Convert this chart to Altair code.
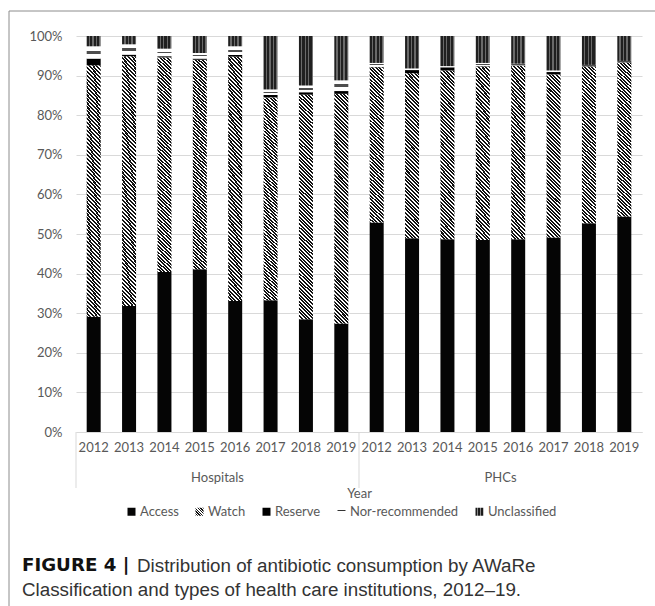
import json

import altair as alt
import pandas as pd

# ---- data: share of antibiotic consumption (%) by AWaRe category ----
years = ["2012", "2013", "2014", "2015", "2016", "2017", "2018", "2019"]
groups = ["Hospitals", "PHCs"]
categories = ["Access", "Watch", "Reserve", "Nor-recommended", "Unclassified"]

hospitals_access = [29.1, 31.8, 40.4, 41.1, 33.1, 33.3, 28.5, 27.4]
hospitals_watch = [63.5, 63.1, 54.2, 52.9, 61.7, 51.2, 56.7, 58.0]
hospitals_reserve = [1.7, 0.4, 0.3, 0.3, 0.4, 0.6, 0.6, 0.7]
hospitals_nor = [3.1, 2.6, 1.9, 1.4, 2.2, 1.4, 1.7, 2.7]
hospitals_unclassified = [2.6, 2.1, 3.2, 4.3, 2.6, 13.5, 12.5, 11.2]

phcs_access = [52.9, 48.9, 48.7, 48.5, 48.7, 49.1, 52.7, 54.4]
phcs_watch = [39.2, 41.7, 42.6, 43.8, 43.8, 41.2, 39.6, 38.9]
phcs_reserve = [0.1, 0.8, 0.8, 0.1, 0.1, 0.6, 0.1, 0.1]
phcs_nor = [1.0, 0.4, 0.3, 0.8, 0.4, 0.4, 0.3, 0.3]
phcs_unclassified = [6.8, 8.2, 7.6, 6.8, 7.0, 8.7, 7.3, 6.3]

y_ticks = [0.0, 0.1, 0.2, 0.3, 0.4, 0.5, 0.6, 0.7, 0.8, 0.9, 1.0]

caption_head = "FIGURE 4 |"
caption_line1 = "Distribution of antibiotic consumption by AWaRe"
caption_line2 = "Classification and types of health care institutions, 2012\u201319."

series = {
    "Hospitals": [hospitals_access, hospitals_watch, hospitals_reserve,
                  hospitals_nor, hospitals_unclassified],
    "PHCs": [phcs_access, phcs_watch, phcs_reserve, phcs_nor, phcs_unclassified],
}

rows = []
for g in groups:
    for i, yr in enumerate(years):
        for k, cat in enumerate(categories):
            rows.append({"group": g, "year": yr, "slot": f"{g} {yr}",
                         "cat": cat, "order": k, "share": series[g][k][i] / 100})
df = pd.DataFrame(rows)
slots = [f"{g} {yr}" for g in groups for yr in years]

# ---- layout ----
PLOT_W, PLOT_H = 566, 396
BAR_W = 14
TEXT = "#595959"
GRID = "#d9d9d9"
FONT = "Lato"


# ---- texture fills built from SVG linear gradients ----
def diag_hatch(seg_h, box_w=BAR_W, period=3.6, ink="#111111", paper="#ffffff", frac=0.56):
    """Back-slash hatching at ~45 deg for a box of box_w x seg_h pixels."""
    t = seg_h / box_w
    k = 1 + t * t
    span = (1 + t) / k
    step = period / (box_w * k)
    stops, pos = [], 0.0
    while pos < span:
        a, b, c = pos, pos + step * frac, pos + step
        stops += [(a, ink), (b, ink), (b, paper), (c, paper)]
        pos = c
    return {"gradient": "linear", "x1": 1, "y1": 0, "x2": 0.0001, "y2": t,
            "stops": [{"offset": round(min(o, 1.0), 6), "color": col}
                      for o, col in stops]}


def vert_stripes(box_w=BAR_W, period=3.5, ink="#202020", light="#6a6a6a", frac=0.62):
    stops, pos = [], 0.0
    step = period / box_w
    while pos < 1:
        a, b, c = pos, pos + step * frac, pos + step
        stops += [(a, ink), (b, ink), (b, light), (c, light)]
        pos = c
    return {"gradient": "linear", "x1": 0, "y1": 0, "x2": 1, "y2": 0,
            "stops": [{"offset": round(min(o, 1.0), 6), "color": col}
                      for o, col in stops]}


def dash_band(lo=0.38, hi=0.62, ink="#4d4d4d"):
    return {"gradient": "linear", "x1": 0, "y1": 0, "x2": 0.0001, "y2": 1,
            "stops": [{"offset": 0, "color": "#ffffff"},
                      {"offset": lo, "color": "#ffffff"},
                      {"offset": lo, "color": ink},
                      {"offset": hi, "color": ink},
                      {"offset": hi, "color": "#ffffff"},
                      {"offset": 1, "color": "#ffffff"}]}


watch_px = {g: sum(series[g][1]) / len(years) / 100 * PLOT_H for g in groups}

ACCESS_FILL = "#050505"
RESERVE_FILL = "#000000"
NOR_FILL = dash_band()
UNCLASS_FILL = vert_stripes()

# ---- shared encodings ----
x_scale = alt.Scale(domain=slots, paddingInner=0, paddingOuter=0)
x_axis = alt.Axis(title="Year", labelExpr="slice(datum.label, -4)", labelAngle=0,
                  ticks=False, domainColor=GRID, grid=False,
                  labelFont=FONT, labelFontSize=13, labelColor=TEXT, labelPadding=9,
                  titleFont=FONT, titleFontSize=13, titleFontWeight="normal",
                  titleColor=TEXT, titlePadding=33)
y_axis = alt.Axis(values=y_ticks, format=".0%", title=None, domain=False, ticks=False,
                  labelPadding=14, gridColor=GRID, labelFont=FONT, labelFontSize=13,
                  labelColor=TEXT)


def x_enc(band=0.5):
    return alt.X("slot:N", sort=slots, scale=x_scale, axis=x_axis, bandPosition=band)


y_enc = alt.Y("y0:Q", scale=alt.Scale(domain=[0, 1], nice=False), axis=y_axis)

base = alt.Chart(df).transform_stack(
    stack="share", groupby=["slot"],
    sort=[alt.SortField("order", order="ascending")], as_=["y0", "y1"])


def segment(cat, fill, group=None):
    c = base.transform_filter(alt.datum.cat == cat)
    if group is not None:
        c = c.transform_filter(alt.datum.group == group)
    return c.mark_bar(size=BAR_W, fill=fill, strokeWidth=0).encode(
        x=x_enc(), y=y_enc, y2="y1:Q")


bars = [
    segment("Access", ACCESS_FILL),
    segment("Watch", diag_hatch(watch_px["Hospitals"]), "Hospitals"),
    segment("Watch", diag_hatch(watch_px["PHCs"]), "PHCs"),
    segment("Reserve", RESERVE_FILL),
    segment("Nor-recommended", NOR_FILL),
    segment("Unclassified", UNCLASS_FILL),
]

# ---- legend (drawn from an empty layer so only the key shows) ----
legend_fills = [
    ACCESS_FILL,
    diag_hatch(8, box_w=8, period=2.6),
    RESERVE_FILL,
    dash_band(0.22, 0.45, "#333333"),
    vert_stripes(box_w=8, period=2.7, ink="#1c1c1c", light="#8a8a8a", frac=0.6),
]
legend_range = [{"expr": json.dumps(f)} if isinstance(f, dict) else f for f in legend_fills]

legend_layer = alt.Chart(df).transform_filter("false").mark_bar().encode(
    color=alt.Color("cat:N", scale=alt.Scale(domain=categories, range=legend_range),
                    legend=alt.Legend(title=None, orient="none", legendX=49, legendY=469,
                                      direction="horizontal", symbolType="square",
                                      symbolSize=64, symbolStrokeWidth=0,
                                      labelFont=FONT, labelFontSize=13, labelColor=TEXT,
                                      labelOffset=2, columnPadding=14, padding=0)))

# ---- two-level category axis: group names and separators ----
mid_year = years[len(years) // 2 - 1]
group_labels = alt.Chart(pd.DataFrame({
    "slot": [f"{g} {mid_year}" for g in groups], "label": groups})).mark_text(
    font=FONT, fontSize=13, color=TEXT, baseline="middle").encode(
    x=x_enc(1), y=alt.value(PLOT_H + 46), text="label:N")

separators = alt.Chart(pd.DataFrame({
    "slot": [f"{g} {years[0]}" for g in groups]})).mark_rule(
    color=GRID, strokeWidth=1).encode(
    x=x_enc(0), y=alt.value(PLOT_H), y2=alt.value(PLOT_H + 56))

# ---- caption and frame ----
cap_df = pd.DataFrame({"head": [caption_head], "l1": [caption_line1], "l2": [caption_line2]})
CAP_FONT, CAP_SIZE = "Liberation Sans", 18.8
cap_head = alt.Chart(cap_df).mark_text(
    align="left", baseline="middle", font="DejaVu Sans", fontSize=18.2,
    fontWeight="bold", color="#111111").encode(
    text="head:N", x=alt.value(-54), y=alt.value(530))
cap_l1 = alt.Chart(cap_df).mark_text(
    align="left", baseline="middle", font=CAP_FONT, fontSize=CAP_SIZE,
    color="#333333").encode(text="l1:N", x=alt.value(61), y=alt.value(530))
cap_l2 = alt.Chart(cap_df).mark_text(
    align="left", baseline="middle", font=CAP_FONT, fontSize=CAP_SIZE,
    color="#333333").encode(text="l2:N", x=alt.value(-54), y=alt.value(554))

frame_top = alt.Chart(cap_df).mark_rule(color="#8c8c8c", strokeWidth=1).encode(
    x=alt.value(-67), x2=alt.value(PLOT_W + 20), y=alt.value(-25))
frame_left = alt.Chart(cap_df).mark_rule(color="#8c8c8c", strokeWidth=1).encode(
    x=alt.value(-67), y=alt.value(-25), y2=alt.value(PLOT_H + 200))

chart = alt.layer(
    *bars, separators, group_labels, legend_layer,
    cap_head, cap_l1, cap_l2, frame_top, frame_left,
).properties(
    width=PLOT_W, height=PLOT_H,
    autosize=alt.AutoSizeParams(type="none"),
    padding={"left": 76, "top": 36, "right": 13, "bottom": 174},
    background="#ffffff",
).configure_view(stroke=None)

chart.save("out.html", embed_options={"renderer": "svg", "actions": False})
